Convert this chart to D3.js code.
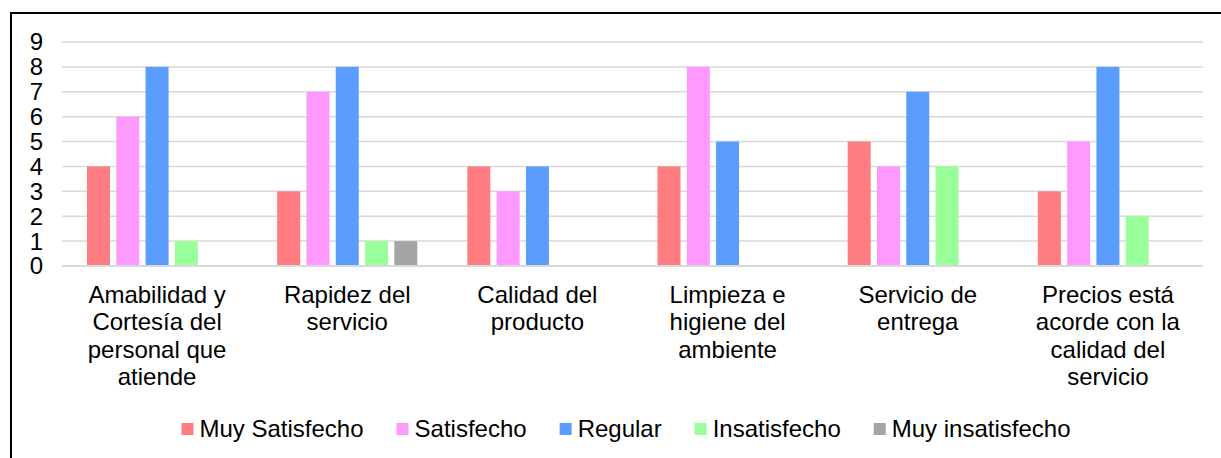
<!DOCTYPE html>
<html>
<head>
<meta charset="utf-8">
<script src="https://cdn.jsdelivr.net/npm/d3@7"></script>
<style>
  body { margin: 0; background: #fff; }
  text { font-family: "Liberation Sans", Arial, sans-serif; fill: #000; }
</style>
</head>
<body>
<script>
var width = 1221, height = 458;

// data
var categories = [
  ["Amabilidad y", "Cortesía del", "personal que", "atiende"],
  ["Rapidez del", "servicio"],
  ["Calidad del", "producto"],
  ["Limpieza e", "higiene del", "ambiente"],
  ["Servicio de", "entrega"],
  ["Precios está", "acorde con la", "calidad del", "servicio"]
];
var series = ["Muy Satisfecho", "Satisfecho", "Regular", "Insatisfecho", "Muy insatisfecho"];
var colors = ["#ff7c80", "#ff99ff", "#5b9dff", "#99ff99", "#a5a5a5"];
var muySatisfecho   = [4, 3, 4, 4, 5, 3];
var satisfecho      = [6, 7, 3, 8, 4, 5];
var regular         = [8, 8, 4, 5, 7, 8];
var insatisfecho    = [1, 1, 0, 0, 4, 2];
var muyInsatisfecho = [0, 1, 0, 0, 0, 0];
var yTicks = [0, 1, 2, 3, 4, 5, 6, 7, 8, 9];

var values = [muySatisfecho, satisfecho, regular, insatisfecho, muyInsatisfecho];
var catKeys = categories.map(function(d) { return d.join(" "); });

var svg = d3.select("body").append("svg")
            .attr("width", width)
            .attr("height", height);

// outer frame (runs off the right and bottom edges)
svg.append("rect")
   .attr("x", 11).attr("y", 13)
   .attr("width", width + 20).attr("height", height + 20)
   .attr("fill", "none")
   .attr("stroke", "#000")
   .attr("stroke-width", 2);

var plotLeft = 62, plotRight = 1203, plotTop = 42, plotBottom = 266;

var y = d3.scaleLinear().domain([0, 9]).range([plotBottom, plotTop]);
var x0 = d3.scaleBand().domain(catKeys).range([plotLeft, plotRight]).padding(0);
var groupW = x0.bandwidth() * 0.77;
var x1 = d3.scaleBand().domain(series).range([0, groupW])
           .paddingInner(0.215).paddingOuter(0.1075);
var color = d3.scaleOrdinal().domain(series).range(colors);

// gridlines
svg.append("g")
   .selectAll("line")
   .data(yTicks)
   .enter()
   .append("line")
   .attr("x1", plotLeft).attr("x2", plotRight)
   .attr("y1", function(d) { return y(d); })
   .attr("y2", function(d) { return y(d); })
   .attr("stroke", "#d9d9d9")
   .attr("stroke-width", function(d) { return d == 0 ? 2 : 1.5; });

// y tick labels
svg.append("g")
   .selectAll("text")
   .data(yTicks)
   .enter()
   .append("text")
   .attr("x", 43)
   .attr("y", function(d) { return y(d); })
   .attr("dy", "0.35em")
   .attr("text-anchor", "end")
   .attr("font-size", 24)
   .text(function(d) { return d; });

// bars
var groups = svg.append("g")
                .selectAll("g")
                .data(catKeys)
                .enter()
                .append("g")
                .attr("transform", function(d) {
                  return "translate(" + (x0(d) + (x0.bandwidth() - groupW) / 2) + ",0)";
                });

groups.selectAll("rect")
      .data(function(d, i) {
        return series.map(function(s, j) { return {s: s, v: values[j][i]}; })
                     .filter(function(e) { return e.v > 0; });
      })
      .enter()
      .append("rect")
      .attr("x", function(d) { return x1(d.s); })
      .attr("width", x1.bandwidth())
      .attr("y", function(d) { return y(d.v); })
      .attr("height", function(d) { return y(0) - y(d.v) - 1; })
      .attr("fill", function(d) { return color(d.s); });

// category labels
var cat = svg.append("g")
             .selectAll("text")
             .data(categories)
             .enter()
             .append("text")
             .attr("text-anchor", "middle")
             .attr("font-size", 24)
             .attr("transform", function(d, i) {
               return "translate(" + (x0(catKeys[i]) + x0.bandwidth() / 2) + ",303)";
             });

cat.selectAll("tspan")
   .data(function(d) { return d; })
   .enter()
   .append("tspan")
   .attr("x", 0)
   .attr("y", function(d, i) { return i * 27.3; })
   .text(function(d) { return d; });

// legend
var legend = svg.append("g").attr("class", "legend");
var items = legend.selectAll("g")
                  .data(series)
                  .enter()
                  .append("g");

items.append("rect")
     .attr("width", 12).attr("height", 12)
     .attr("y", 423)
     .attr("fill", function(d) { return color(d); });

items.append("text")
     .attr("x", 18)
     .attr("y", 437)
     .attr("font-size", 24)
     .text(function(d) { return d; });

var pos = 0, offsets = [];
items.each(function() {
  offsets.push(pos);
  pos += 18 + d3.select(this).select("text").node().getComputedTextLength() + 33;
});
var total = pos - 33;
var start = 626 - total / 2;
items.attr("transform", function(d, i) { return "translate(" + (start + offsets[i]) + ",0)"; });
</script>
</body>
</html>
